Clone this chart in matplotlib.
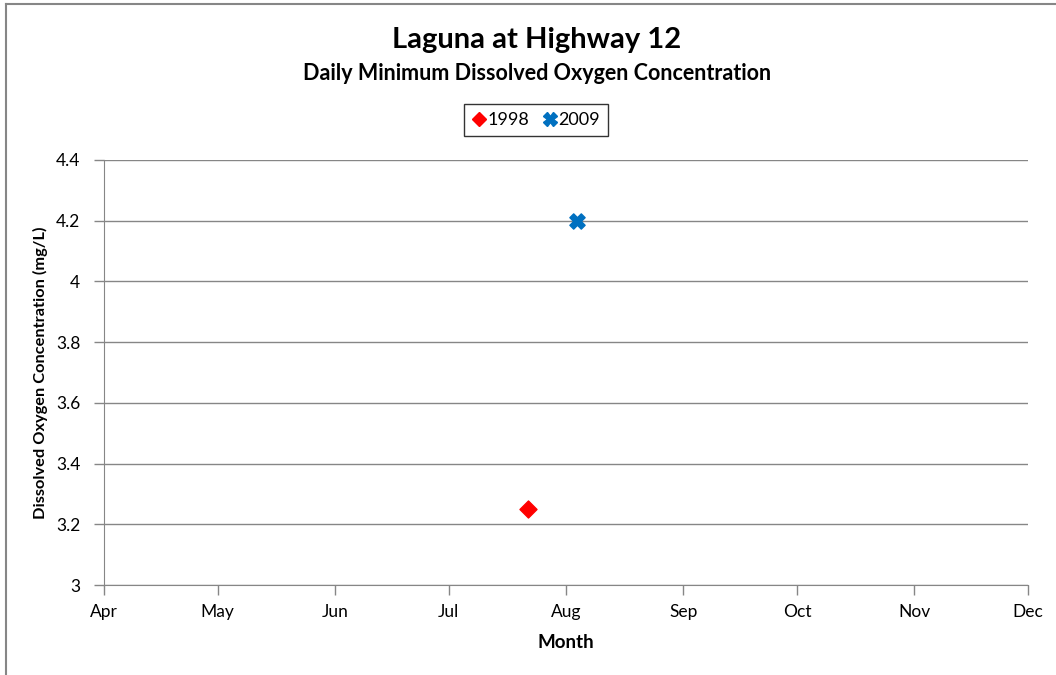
import matplotlib
matplotlib.use('Agg')
import matplotlib.pyplot as plt
import matplotlib.dates as mdates
from matplotlib.lines import Line2D
from datetime import datetime

plt.rcParams['font.family'] = ['Lato', 'DejaVu Sans']

# data (dummy year 2000 so both series share one Apr-Dec axis)
dates_1998 = [datetime(2000, 7, 22)]
do_1998 = [3.25]
dates_2009 = [datetime(2000, 8, 4)]
do_2009 = [4.2]

month_ticks = [datetime(2000, m, 1) for m in range(4, 13)]
month_labels = ['Apr', 'May', 'Jun', 'Jul', 'Aug', 'Sep', 'Oct', 'Nov', 'Dec']
y_ticks = [3, 3.2, 3.4, 3.6, 3.8, 4, 4.2, 4.4]
y_labels = ['3', '3.2', '3.4', '3.6', '3.8', '4', '4.2', '4.4']

W, H = 1056, 675
fig = plt.figure(figsize=(W / 100, H / 100), dpi=100)
ax = fig.add_axes([104 / W, 1 - 585 / H, (1028 - 104) / W, (585 - 160) / H])

ax.scatter(dates_1998, do_1998, marker='D', s=75, color='#FF0000', zorder=3, label='1998')
ax.scatter(dates_2009, do_2009, marker='X', s=120, color='#0070C0', zorder=3, label='2009')

ax.set_xlim(month_ticks[0], month_ticks[-1])
ax.set_ylim(3, 4.4)
ax.set_xticks(month_ticks)
ax.set_xticklabels(month_labels)
ax.set_yticks(y_ticks)
ax.set_yticklabels(y_labels)

ax.grid(axis='y', color='#868686', linewidth=1)
ax.set_axisbelow(True)
for side in ['top', 'right']:
    ax.spines[side].set_visible(False)
for side in ['left', 'bottom']:
    ax.spines[side].set_color('#868686')
ax.tick_params(axis='both', colors='#868686', length=7, width=1, labelcolor='black', labelsize=12.5)
ax.tick_params(axis='x', pad=7)
ax.tick_params(axis='y', pad=10)

ax.set_xlabel('Month', fontsize=13.5, fontweight='bold', labelpad=10)
ax.set_ylabel('Dissolved Oxygen Concentration (mg/L)', fontsize=11.8, fontweight='bold', labelpad=6)

fig.text(537 / W, 1 - 40 / H, 'Laguna at Highway 12', ha='center', va='center',
         fontsize=21, fontweight='bold')
fig.text(537 / W, 1 - 73 / H, 'Daily Minimum Dissolved Oxygen Concentration', ha='center', va='center',
         fontsize=15.5, fontweight='bold')

handles = [
    Line2D([], [], marker='D', color='#FF0000', linestyle='none', markersize=7),
    Line2D([], [], marker='X', color='#0070C0', linestyle='none', markersize=10),
]
leg = fig.legend(handles, ['1998', '2009'], loc='center', bbox_to_anchor=(536 / W, 1 - 120 / H),
                 ncol=2, frameon=True, fancybox=False, fontsize=13, handlelength=0.8,
                 handletextpad=0.1, columnspacing=0.7, borderpad=0.45)
leg.get_frame().set_edgecolor('black')
leg.get_frame().set_linewidth(1)

# outer chart border (partly cropped in the reference)
fig.add_artist(Line2D([6 / W, 1], [1 - 4 / H, 1 - 4 / H], color='#868686', linewidth=1.5))
fig.add_artist(Line2D([6 / W, 6 / W], [0, 1 - 4 / H], color='#868686', linewidth=1.5))

fig.savefig('out.png', dpi=100)
